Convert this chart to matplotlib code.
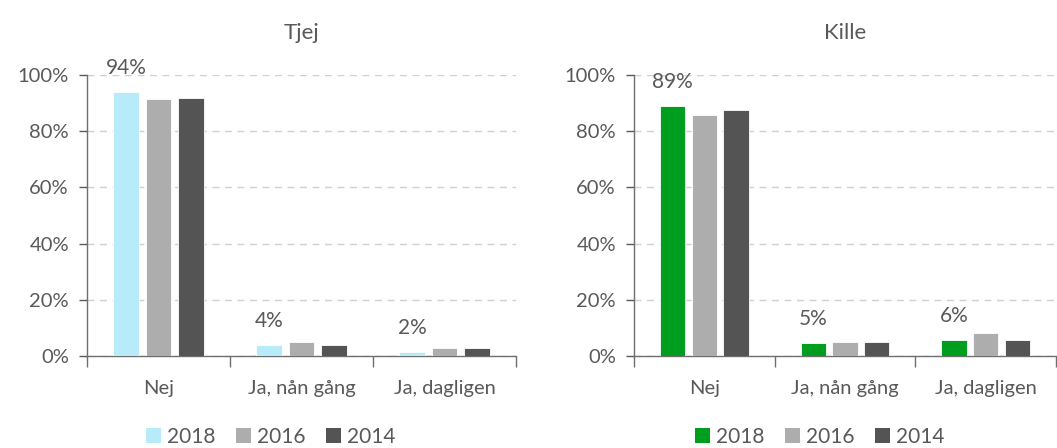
import numpy as np
import matplotlib
matplotlib.use('Agg')
import matplotlib.pyplot as plt
import matplotlib.patches as patches

# data
categories = ['Nej', 'Ja, nån gång', 'Ja, dagligen']
years = ['2018', '2016', '2014']
tjej = {'2018': [93.8, 3.8, 1.4], '2016': [91.3, 5.1, 2.7], '2014': [91.9, 3.8, 2.7]}
kille = {'2018': [89.0, 4.5, 5.7], '2016': [85.9, 5.1, 8.3], '2014': [87.6, 5.1, 5.7]}
tjej_labels = ['94%', '4%', '2%']
kille_labels = ['89%', '5%', '6%']

txt = '#595959'
plt.rcParams['font.family'] = ['Lato', 'DejaVu Sans']
plt.rcParams['font.size'] = 14.5

fig = plt.figure(figsize=(10.57, 4.48), dpi=100)
W, H = 1057., 448.

def draw(left, right, title, data, labels, col18, legend_cx):
    ax = fig.add_axes([left / W, 1 - 356 / H, (right - left) / W, (356 - 75) / H])
    colors = {'2018': col18, '2016': '#ADADAD', '2014': '#545454'}
    x = np.arange(len(categories))
    offs = {'2018': -0.225, '2016': 0.0, '2014': 0.225}
    for y in years:
        ax.bar(x + offs[y], data[y], width=0.18, color=colors[y], edgecolor='white', linewidth=0.6, zorder=3)
    for i, lab in enumerate(labels):
        ax.text(x[i] + offs['2018'], data['2018'][i] + 5.0, lab, ha='center', va='bottom',
                color=txt, fontsize=15, clip_on=False)
    ax.set_xlim(-0.5, 2.5)
    ax.set_ylim(0, 100)
    ax.set_yticks(np.arange(0, 101, 20))
    ax.set_yticklabels(['%d%%' % v for v in range(0, 101, 20)])
    ax.set_xticks(x)
    ax.set_xticklabels(categories)
    ax.set_xticks([-0.5, 0.5, 1.5, 2.5], minor=True)
    ax.tick_params(axis='x', which='major', length=0, pad=17, colors=txt)
    ax.tick_params(axis='x', which='minor', length=8, direction='out', color='#6E6E6E', width=1)
    ax.tick_params(axis='y', length=6, direction='out', color='#6E6E6E', width=1, pad=7)
    ax.tick_params(axis='y', colors=txt)
    ax.yaxis.grid(True, linestyle=(0, (5, 4)), color='#D0D0D0', linewidth=1, zorder=0)
    for s in ['top', 'right']:
        ax.spines[s].set_visible(False)
    for s in ['left', 'bottom']:
        ax.spines[s].set_color('#6E6E6E')
        ax.spines[s].set_linewidth(1)
    ax.set_title(title, color=txt, fontsize=16, pad=26)
    handles = [patches.Patch(facecolor=colors[y], edgecolor='none') for y in years]
    fig.legend(handles, years, loc='center', bbox_to_anchor=(legend_cx / W, 1 - 437 / H),
               ncol=3, frameon=False, fontsize=15, handlelength=0.7, handleheight=0.7,
               handletextpad=0.3, columnspacing=1.0, labelcolor=txt)
    return ax

draw(87, 516, 'Tjej', tjej, tjej_labels, '#B7EBF9', 271)
draw(634, 1056, 'Kille', kille, kille_labels, '#009E1E', 820)

fig.savefig('out.png', dpi=100)
